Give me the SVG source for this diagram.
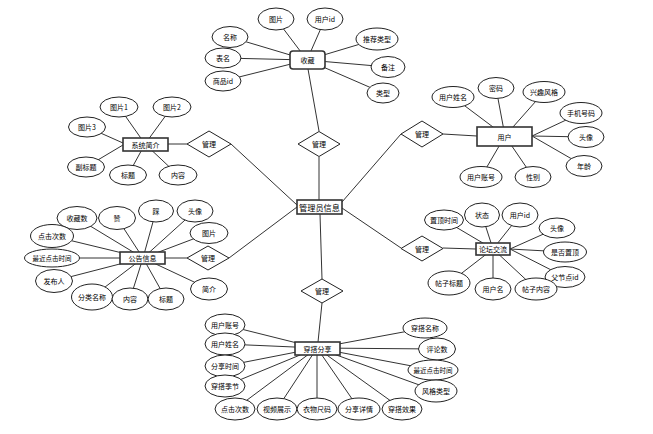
<svg xmlns="http://www.w3.org/2000/svg" width="653" height="434" viewBox="0 0 653 434">
<style>
.c line{stroke:#333;stroke-width:1}
.e{fill:#fff;stroke:#222;stroke-width:1}
.r{fill:#fff;stroke:#333;stroke-width:1.6}
.d{fill:#fff;stroke:#222;stroke-width:1}
text{font-family:"Noto Sans CJK SC","Liberation Sans",sans-serif;font-size:7px;fill:#000;text-anchor:middle;dominant-baseline:central}
.big{font-size:8.2px}
.sm{font-size:6.5px}
</style>
<rect width="653" height="434" fill="#fff"/>
<g id="connectors" class="c">
<line x1="319" y1="201" x2="319" y2="157"/>
<line x1="319" y1="131" x2="308" y2="69"/>
<line x1="342" y1="202" x2="401" y2="134"/>
<line x1="443" y1="134" x2="477" y2="136"/>
<line x1="342" y1="208" x2="401" y2="248"/>
<line x1="443" y1="248" x2="476" y2="249"/>
<line x1="297" y1="205" x2="231" y2="144"/>
<line x1="187" y1="144" x2="168" y2="144"/>
<line x1="297" y1="207" x2="229" y2="258"/>
<line x1="187" y1="258" x2="165" y2="258"/>
<line x1="320" y1="214" x2="322" y2="279"/>
<line x1="322" y1="303" x2="318" y2="342"/>
<line x1="307" y1="60" x2="276" y2="19"/>
<line x1="307" y1="60" x2="325" y2="19"/>
<line x1="307" y1="60" x2="230" y2="37"/>
<line x1="307" y1="60" x2="223" y2="58"/>
<line x1="307" y1="60" x2="223" y2="81"/>
<line x1="307" y1="60" x2="377" y2="39"/>
<line x1="307" y1="60" x2="388" y2="67"/>
<line x1="307" y1="60" x2="383" y2="93"/>
<line x1="505" y1="136" x2="453" y2="97"/>
<line x1="505" y1="136" x2="496" y2="88"/>
<line x1="505" y1="136" x2="544" y2="92"/>
<line x1="532" y1="136" x2="581" y2="113"/>
<line x1="532" y1="136" x2="586" y2="137"/>
<line x1="532" y1="136" x2="584" y2="166"/>
<line x1="505" y1="136" x2="481" y2="177"/>
<line x1="505" y1="136" x2="533" y2="177"/>
<line x1="145" y1="144" x2="119" y2="107"/>
<line x1="145" y1="144" x2="172" y2="107"/>
<line x1="123" y1="143" x2="87" y2="127"/>
<line x1="123" y1="145" x2="86" y2="167"/>
<line x1="145" y1="144" x2="128" y2="175"/>
<line x1="145" y1="144" x2="178" y2="175"/>
<line x1="143" y1="258" x2="77" y2="218"/>
<line x1="143" y1="258" x2="117" y2="218"/>
<line x1="143" y1="258" x2="156" y2="211"/>
<line x1="143" y1="258" x2="195" y2="211"/>
<line x1="143" y1="258" x2="209" y2="233"/>
<line x1="143" y1="258" x2="52" y2="236"/>
<line x1="143" y1="258" x2="52" y2="258"/>
<line x1="143" y1="258" x2="54" y2="281"/>
<line x1="143" y1="258" x2="92" y2="297"/>
<line x1="143" y1="258" x2="130" y2="299"/>
<line x1="143" y1="258" x2="166" y2="299"/>
<line x1="143" y1="258" x2="209" y2="289"/>
<line x1="493" y1="249" x2="444" y2="220"/>
<line x1="493" y1="249" x2="482" y2="215"/>
<line x1="493" y1="249" x2="520" y2="215"/>
<line x1="510" y1="249" x2="557" y2="228"/>
<line x1="510" y1="249" x2="565" y2="252"/>
<line x1="510" y1="249" x2="565" y2="277"/>
<line x1="493" y1="249" x2="536" y2="289"/>
<line x1="493" y1="249" x2="493" y2="289"/>
<line x1="493" y1="249" x2="449" y2="283"/>
<line x1="317" y1="348" x2="225" y2="325"/>
<line x1="317" y1="348" x2="225" y2="344"/>
<line x1="317" y1="348" x2="225" y2="366"/>
<line x1="317" y1="348" x2="225" y2="386"/>
<line x1="317" y1="348" x2="235" y2="409"/>
<line x1="317" y1="348" x2="277" y2="409"/>
<line x1="317" y1="348" x2="317" y2="409"/>
<line x1="317" y1="348" x2="359" y2="409"/>
<line x1="317" y1="348" x2="402" y2="409"/>
<line x1="317" y1="348" x2="425" y2="328"/>
<line x1="317" y1="348" x2="437" y2="349"/>
<line x1="317" y1="348" x2="433" y2="370"/>
<line x1="317" y1="348" x2="436" y2="391"/>
</g>

<g id="admin"><rect class="r" x="297" y="200" width="45" height="14"/><text class="big" x="319.5" y="207">管理员信息</text></g>
<g id="rel-top"><polygon class="d" points="319,131.5 340,144 319,156.5 298,144"/><text x="319" y="144">管理</text></g>
<g id="rel-bottom"><polygon class="d" points="322,279 343,291 322,303 301,291"/><text x="322" y="291">管理</text></g>
<g id="rel-ru"><polygon class="d" points="422,121 443,134 422,147 401,134"/><text x="422" y="134">管理</text></g>
<g id="rel-rl"><polygon class="d" points="422,236 443,248.5 422,261 401,248.5"/><text x="422" y="248.5">管理</text></g>
<g id="rel-lu"><polygon class="d" points="209,131 231,144 209,157 187,144"/><text x="209" y="144">管理</text></g>
<g id="rel-ll"><polygon class="d" points="208,246 229,258 208,270 187,258"/><text x="208" y="258">管理</text></g>

<g id="shoucang">
<rect class="r" x="290" y="51" width="35" height="18" rx="3"/><text x="307.5" y="60">收藏</text>
<ellipse class="e" cx="276" cy="19" rx="18" ry="11"/><text x="276" y="19">图片</text>
<ellipse class="e" cx="325" cy="19" rx="18" ry="11"/><text x="325" y="19">用户id</text>
<ellipse class="e" cx="230" cy="37" rx="18" ry="10.5"/><text x="230" y="37">名称</text>
<ellipse class="e" cx="223" cy="58" rx="18" ry="10"/><text x="223" y="58">表名</text>
<ellipse class="e" cx="223" cy="81" rx="18" ry="10"/><text x="223" y="81">商品id</text>
<ellipse class="e" cx="377" cy="39" rx="21" ry="11"/><text x="377" y="39">推荐类型</text>
<ellipse class="e" cx="388" cy="67" rx="17" ry="10.5"/><text x="388" y="67">备注</text>
<ellipse class="e" cx="383" cy="93" rx="16" ry="10"/><text x="383" y="93">类型</text>
</g>

<g id="yonghu">
<rect class="r" x="477" y="127" width="55" height="19"/><text x="504.5" y="136.5">用户</text>
<ellipse class="e" cx="453" cy="97" rx="21" ry="10.5"/><text x="453" y="97">用户姓名</text>
<ellipse class="e" cx="496" cy="88" rx="18" ry="10.5"/><text x="496" y="88">密码</text>
<ellipse class="e" cx="544" cy="92" rx="21" ry="10.5"/><text x="544" y="92">兴趣风格</text>
<ellipse class="e" cx="581" cy="113" rx="21" ry="10.5"/><text x="581" y="113">手机号码</text>
<ellipse class="e" cx="586" cy="137" rx="18" ry="10.5"/><text x="586" y="137">头像</text>
<ellipse class="e" cx="584" cy="166" rx="18" ry="10.5"/><text x="584" y="166">年龄</text>
<ellipse class="e" cx="481" cy="177" rx="21" ry="10.5"/><text x="481" y="177">用户账号</text>
<ellipse class="e" cx="533" cy="177" rx="18" ry="10.5"/><text x="533" y="177">性别</text>
</g>

<g id="xitong">
<rect class="r" x="123" y="138" width="45" height="13"/><text x="145.5" y="144.5">系统简介</text>
<ellipse class="e" cx="119" cy="107" rx="19" ry="10"/><text x="119" y="107">图片1</text>
<ellipse class="e" cx="172" cy="107" rx="19" ry="10"/><text x="172" y="107">图片2</text>
<ellipse class="e" cx="87" cy="127" rx="18.5" ry="10"/><text x="87" y="127">图片3</text>
<ellipse class="e" cx="86" cy="167" rx="18.5" ry="10"/><text x="86" y="167">副标题</text>
<ellipse class="e" cx="128" cy="175" rx="18.5" ry="10"/><text x="128" y="175">标题</text>
<ellipse class="e" cx="178" cy="175" rx="19" ry="10"/><text x="178" y="175">内容</text>
</g>

<g id="gonggao">
<rect class="r" x="120" y="252" width="45" height="12"/><text x="142.5" y="258">公告信息</text>
<ellipse class="e" cx="77" cy="218" rx="20" ry="11.5"/><text x="77" y="218">收藏数</text>
<ellipse class="e" cx="117" cy="218" rx="18.5" ry="11.5"/><text x="117" y="218">赞</text>
<ellipse class="e" cx="156" cy="211" rx="17.5" ry="11"/><text x="156" y="211">踩</text>
<ellipse class="e" cx="195" cy="211" rx="18" ry="11"/><text x="195" y="211">头像</text>
<ellipse class="e" cx="209" cy="233" rx="19" ry="10.5"/><text x="209" y="233">图片</text>
<ellipse class="e" cx="52" cy="236" rx="21.5" ry="11.5"/><text x="52" y="236">点击次数</text>
<ellipse class="e" cx="52" cy="258" rx="27.5" ry="9"/><text class="sm" x="52" y="258">最近点击时间</text>
<ellipse class="e" cx="54" cy="281" rx="18.5" ry="11.5"/><text x="54" y="281">发布人</text>
<ellipse class="e" cx="92" cy="297" rx="20.5" ry="13"/><text x="92" y="297">分类名称</text>
<ellipse class="e" cx="130" cy="299" rx="18" ry="11"/><text x="130" y="299">内容</text>
<ellipse class="e" cx="166" cy="299" rx="18" ry="11"/><text x="166" y="299">标题</text>
<ellipse class="e" cx="209" cy="289" rx="18.5" ry="11"/><text x="209" y="289">简介</text>
</g>

<g id="luntan">
<rect class="r" x="476" y="243" width="34" height="12"/><text x="493" y="249">论坛交流</text>
<ellipse class="e" cx="444" cy="220" rx="19.5" ry="10"/><text x="444" y="220">置顶时间</text>
<ellipse class="e" cx="482" cy="215" rx="17.5" ry="12"/><text x="482" y="215">状态</text>
<ellipse class="e" cx="520" cy="215" rx="18" ry="12"/><text x="520" y="215">用户id</text>
<ellipse class="e" cx="557" cy="228" rx="18" ry="10"/><text x="557" y="228">头像</text>
<ellipse class="e" cx="565" cy="252" rx="21.5" ry="10"/><text x="565" y="252">是否置顶</text>
<ellipse class="e" cx="565" cy="277" rx="20" ry="10.5"/><text x="565" y="277">父节点id</text>
<ellipse class="e" cx="536" cy="289" rx="21" ry="11"/><text x="536" y="289">帖子内容</text>
<ellipse class="e" cx="493" cy="289" rx="18" ry="11"/><text x="493" y="289">用户名</text>
<ellipse class="e" cx="449" cy="283" rx="21" ry="12"/><text x="449" y="283">帖子标题</text>
</g>

<g id="chuanda">
<rect class="r" x="295" y="342" width="45" height="13"/><text x="317.5" y="348.5">穿搭分享</text>
<ellipse class="e" cx="225" cy="325" rx="20" ry="11"/><text x="225" y="325">用户账号</text>
<ellipse class="e" cx="225" cy="344" rx="20" ry="11"/><text x="225" y="344">用户姓名</text>
<ellipse class="e" cx="225" cy="366" rx="20" ry="11"/><text x="225" y="366">分享时间</text>
<ellipse class="e" cx="225" cy="386" rx="20" ry="11"/><text x="225" y="386">穿搭季节</text>
<ellipse class="e" cx="235" cy="409" rx="20" ry="11"/><text x="235" y="409">点击次数</text>
<ellipse class="e" cx="277" cy="409" rx="20" ry="11"/><text x="277" y="409">视频展示</text>
<ellipse class="e" cx="317" cy="409" rx="20" ry="11"/><text x="317" y="409">衣物尺码</text>
<ellipse class="e" cx="359" cy="409" rx="21" ry="11"/><text x="359" y="409">分享详情</text>
<ellipse class="e" cx="402" cy="409" rx="20" ry="11"/><text x="402" y="409">穿搭效果</text>
<ellipse class="e" cx="425" cy="328" rx="22" ry="10"/><text x="425" y="328">穿搭名称</text>
<ellipse class="e" cx="437" cy="349" rx="18.5" ry="11"/><text x="437" y="349">评论数</text>
<ellipse class="e" cx="433" cy="370" rx="25" ry="10"/><text class="sm" x="433" y="370">最近点击时间</text>
<ellipse class="e" cx="436" cy="391" rx="21" ry="11"/><text x="436" y="391">风格类型</text>
</g>
</svg>
